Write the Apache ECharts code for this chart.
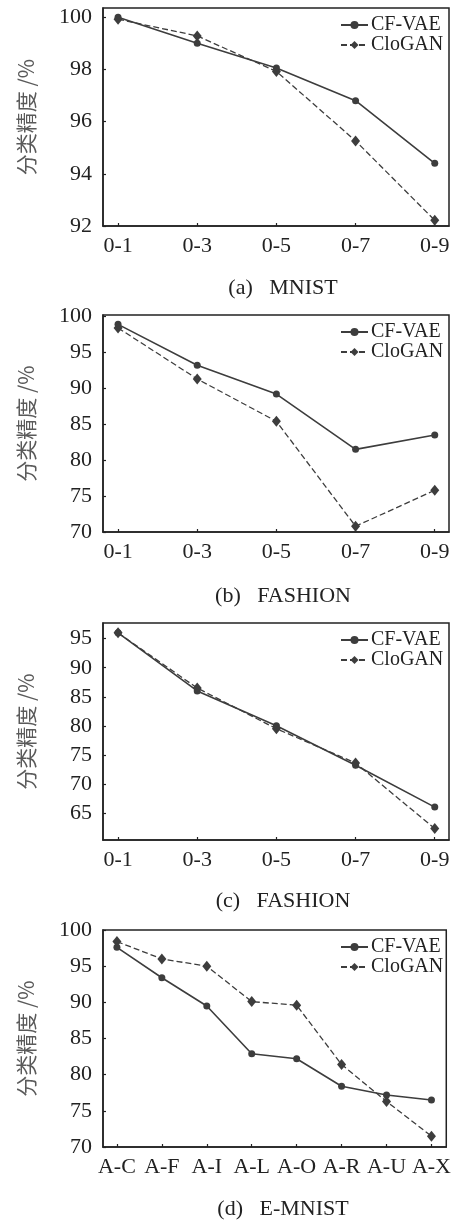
<!DOCTYPE html>
<html><head><meta charset="utf-8">
<script src="https://cdn.jsdelivr.net/npm/echarts@6/dist/echarts.min.js"></script>
<style>html,body{margin:0;padding:0;background:#fff}#c{width:454px;height:1221px}</style>
</head><body><div id="c"></div>
<script>
const catsNum = ['0-1','0-3','0-5','0-7','0-9'];
const catsEm = ['A-C','A-F','A-I','A-L','A-O','A-R','A-U','A-X'];
const mnistCF = [100.0, 99.0, 98.05, 96.8, 94.4];
const mnistClo = [99.92, 99.28, 97.92, 95.26, 92.22];
const fashionBCF = [98.9, 93.2, 89.2, 81.5, 83.5];
const fashionBClo = [98.4, 91.3, 85.4, 70.8, 75.8];
const fashionCCF = [96.0, 86.0, 80.0, 73.2, 66.0];
const fashionCClo = [96.0, 86.5, 79.5, 73.6, 62.3];
const emnistCF = [97.6, 93.4, 89.5, 82.9, 82.2, 78.4, 77.2, 76.5];
const emnistClo = [98.4, 96.0, 95.0, 90.1, 89.6, 81.4, 76.3, 71.5];
const ticksA = [92, 94, 96, 98, 100];
const ticksB = [70, 75, 80, 85, 90, 95, 100];
const ticksC = [65, 70, 75, 80, 85, 90, 95];
const ticksD = [70, 75, 80, 85, 90, 95, 100];
const captions = ['(a)   MNIST', '(b)   FASHION', '(c)   FASHION', '(d)   E-MNIST'];
const seriesNames = ['CF-VAE', 'CloGAN'];
const yName = '分类精度 /%';

const FONT = '"Liberation Serif", "Times New Roman", serif';
const INK = '#222';
const LINE = '#3d3d3d';

const panels = [
  {cats: catsNum, cf: mnistCF, clo: mnistClo, ticks: ticksA, ymin: 92, ymax: 100.35, xmin: -0.19, xmax: 4.18, top: 8, h: 218, cap: 285},
  {cats: catsNum, cf: fashionBCF, clo: fashionBClo, ticks: ticksB, ymin: 70, ymax: 100.2, xmin: -0.19, xmax: 4.18, top: 315, h: 217, cap: 593},
  {cats: catsNum, cf: fashionCCF, clo: fashionCClo, ticks: ticksC, ymin: 60.34, ymax: 97.7, xmin: -0.19, xmax: 4.18, top: 623, h: 217, cap: 898},
  {cats: catsEm, cf: emnistCF, clo: emnistClo, ticks: ticksD, ymin: 70, ymax: 100, xmin: -0.31, xmax: 7.33, top: 930, h: 217, cap: 1206}
];

const grid = [], xAxis = [], yAxis = [], series = [], legend = [], title = [];
panels.forEach((p, k) => {
  grid.push({left: 103, width: 346, top: p.top, height: p.h, show: true, borderColor: INK, borderWidth: 1.5, backgroundColor: 'transparent'});
  const idx = p.cats.map((c, i) => i);
  xAxis.push({
    type: 'value', gridIndex: k, min: p.xmin, max: p.xmax,
    splitLine: {show: false},
    axisLine: {show: true, onZero: false, lineStyle: {color: INK, width: 1.5}},
    axisTick: {show: true, inside: true, length: 3, customValues: idx, lineStyle: {color: INK, width: 1.2}},
    axisLabel: {customValues: idx, formatter: v => p.cats[Math.round(v)] ?? '', color: INK, fontFamily: FONT, fontSize: 22, margin: 9}
  });
  yAxis.push({
    type: 'value', gridIndex: k, min: p.ymin, max: p.ymax,
    splitLine: {show: false},
    axisLine: {show: true, onZero: false, lineStyle: {color: INK, width: 1.5}},
    axisTick: {show: true, inside: true, length: 3, customValues: p.ticks, lineStyle: {color: INK, width: 1.2}},
    axisLabel: {customValues: p.ticks, formatter: v => String(v), color: INK, fontFamily: FONT, fontSize: 22, margin: 11},
    name: yName, nameLocation: 'middle', nameGap: 66, nameRotate: 90,
    nameTextStyle: {color: '#5a5a5a', fontFamily: '"Noto Sans CJK SC", ' + FONT, fontSize: 21}
  });
  series.push({
    name: seriesNames[0], type: 'line', xAxisIndex: k, yAxisIndex: k,
    data: p.cf.map((v, i) => [i, v]),
    symbol: 'circle', symbolSize: 7,
    lineStyle: {color: LINE, width: 1.6, type: 'solid'},
    itemStyle: {color: LINE}, animation: false
  });
  series.push({
    name: seriesNames[1], type: 'line', xAxisIndex: k, yAxisIndex: k,
    data: p.clo.map((v, i) => [i, v]),
    symbol: 'diamond', symbolSize: [9, 11],
    lineStyle: {color: LINE, width: 1.3, type: [6, 3]},
    itemStyle: {color: LINE}, animation: false
  });
  legend.push({
    data: seriesNames, orient: 'vertical', left: 340, top: p.top + 7,
    itemWidth: 27, itemHeight: 10, itemGap: 0, padding: 0,
    textStyle: {color: INK, fontFamily: FONT, fontSize: 20, lineHeight: 19, padding: [0, 0, 0, -2]}
  });
  title.push({
    text: captions[k], left: 278, top: p.cap - 13, textAlign: 'center',
    textStyle: {color: INK, fontFamily: FONT, fontSize: 22, fontWeight: 'normal'}
  });
});

const chart = echarts.init(document.getElementById('c'), null, {renderer: 'canvas'});
chart.setOption({animation: false, backgroundColor: '#fff', grid, xAxis, yAxis, series, legend, title});
</script>
</body></html>
